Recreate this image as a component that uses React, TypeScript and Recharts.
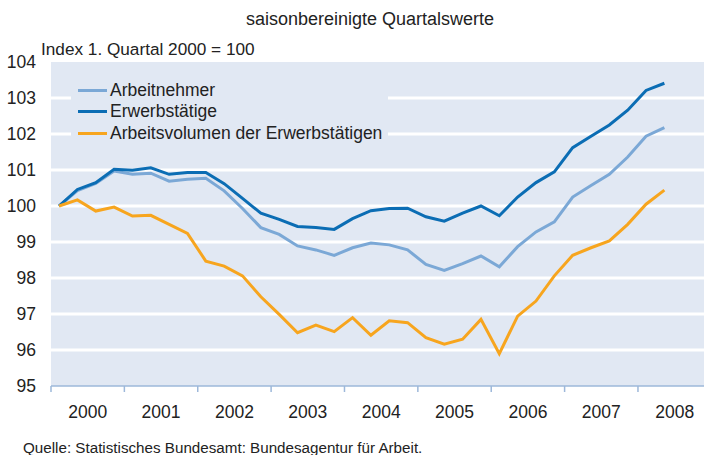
import React from "react"
import { LineChart, Line, XAxis, YAxis, CartesianGrid } from "recharts"

// quarters 2000 Q1 .. 2008 Q2
const years = [2000, 2001, 2002, 2003, 2004, 2005, 2006, 2007, 2008]

const arbeitnehmer = [
  100.0, 100.43, 100.63, 100.97, 100.88, 100.91, 100.69, 100.74, 100.77,
  100.42, 99.93, 99.4, 99.21, 98.89, 98.78, 98.63, 98.84, 98.97,
  98.92, 98.78, 98.38, 98.21, 98.4, 98.61, 98.31, 98.87, 99.28,
  99.56, 100.25, 100.57, 100.88, 101.36, 101.94, 102.18,
]

const erwerbstaetige = [
  100.0, 100.46, 100.65, 101.02, 100.99, 101.06, 100.88, 100.93, 100.93,
  100.62, 100.21, 99.8, 99.63, 99.43, 99.4, 99.35, 99.65, 99.87,
  99.93, 99.94, 99.7, 99.58, 99.8, 100.0, 99.73, 100.25, 100.65,
  100.95, 101.62, 101.94, 102.25, 102.66, 103.21, 103.41,
]

const arbeitsvolumen = [
  100.0, 100.17, 99.86, 99.97, 99.72, 99.74, 99.49, 99.24, 98.47,
  98.33, 98.06, 97.48, 96.99, 96.48, 96.69, 96.51, 96.9, 96.41,
  96.81, 96.76, 96.34, 96.16, 96.3, 96.85, 95.9, 96.94, 97.36,
  98.06, 98.63, 98.84, 99.03, 99.49, 100.05, 100.44,
]

const yTicks = [95, 96, 97, 98, 99, 100, 101, 102, 103, 104]
const gridValues = [96, 97, 98, 99, 100, 101, 102, 103]

const series = [
  { key: "an", name: "Arbeitnehmer", color: "#7ba8d6" },
  { key: "et", name: "Erwerbstätige", color: "#0b6db4" },
  { key: "av", name: "Arbeitsvolumen der Erwerbstätigen", color: "#f7a51e" },
]

const data = erwerbstaetige.map((v, i) => ({
  t: 2000 + 0.11 + i / 4,
  an: arbeitnehmer[i],
  et: v,
  av: arbeitsvolumen[i],
}))

const font = "'Liberation Sans', Arial, sans-serif"
const bg = "#e1e8f3"

const YearTick = (props: any) => {
  const { x, y, payload } = props
  return (
    <text x={x + 36.7} y={y + 24} textAnchor="middle" fontSize={17.5} fill="#222" fontFamily={font}>
      {payload.value}
    </text>
  )
}

// legend sits on a plot-coloured box that hides the upper grid lines
const LegendBox = () => (
  <div style={{ position: "absolute", left: 71, top: 76, width: 317, height: 74, background: bg, fontSize: 17.5, color: "#222" }}>
    {series.map((s, i) => (
      <div key={s.key} style={{ position: "absolute", left: 7, top: 3 + i * 21.6, height: 22, display: "flex", alignItems: "center", whiteSpace: "nowrap" }}>
        <span style={{ display: "inline-block", width: 29, height: 3, background: s.color, marginRight: 3 }} />
        <span>{s.name}</span>
      </div>
    ))}
  </div>
)

export default function App() {
  return (
    <div style={{ position: "absolute", left: 0, top: 0, width: 704, height: 455, background: "#fff", fontFamily: font, overflow: "hidden" }}>
      <div style={{ position: "absolute", left: 0, width: 740, top: 9, textAlign: "center", fontSize: 18, color: "#222" }}>
        saisonbereinigte Quartalswerte
      </div>
      <div style={{ position: "absolute", left: 41, top: 39, fontSize: 17.2, color: "#222" }}>
        Index 1. Quartal 2000 = 100
      </div>
      <LineChart width={704} height={455} data={data} margin={{ top: 62, right: 0, bottom: 39, left: 0 }}>
        <CartesianGrid
          horizontal
          vertical={false}
          fill={bg}
          stroke="#fff"
          strokeWidth={3}
          horizontalValues={gridValues}
        />
        <XAxis
          type="number"
          dataKey="t"
          domain={[2000, 2008.9]}
          ticks={years}
          allowDataOverflow
          height={30}
          tick={<YearTick />}
          tickSize={6}
          axisLine={{ stroke: "#9db8da", strokeWidth: 1.5 }}
          tickLine={{ stroke: "#9db8da", strokeWidth: 1.5 }}
        />
        <YAxis
          domain={[95, 104]}
          ticks={yTicks}
          width={51}
          axisLine={false}
          tickLine={false}
          tickSize={0}
          tickMargin={15}
          tick={{ fontSize: 17.5, fill: "#222", fontFamily: font }}
          interval={0}
        />
        {series.map((s) => (
          <Line
            key={s.key}
            dataKey={s.key}
            name={s.name}
            stroke={s.color}
            strokeWidth={3}
            dot={false}
            type="linear"
            isAnimationActive={false}
          />
        ))}
      </LineChart>
      <LegendBox />
      <div style={{ position: "absolute", left: 23, top: 439, fontSize: 15.2, color: "#222", whiteSpace: "nowrap" }}>
        Quelle: Statistisches Bundesamt: Bundesagentur für Arbeit.
      </div>
    </div>
  )
}
